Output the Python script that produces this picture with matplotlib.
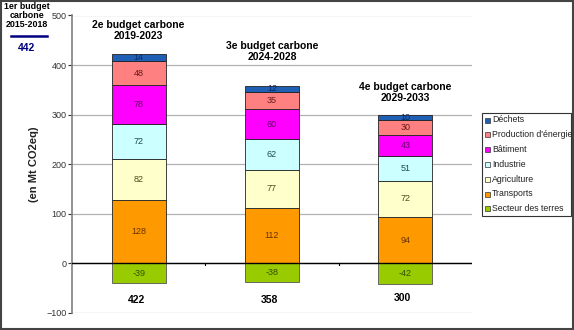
import matplotlib
matplotlib.use("Agg")
from matplotlib import pyplot as plt
from matplotlib.patches import Rectangle
import numpy as np

plt.rcParams["font.family"] = ["Liberation Sans", "DejaVu Sans"]

budgets = ["2e budget carbone\n2019-2023", "3e budget carbone\n2024-2028", "4e budget carbone\n2029-2033"]
totals = [422, 358, 300]

# secteurs, du bas vers le haut
sectors = ["Transports", "Agriculture", "Industrie", "Bâtiment", "Production d'énergie", "Déchets"]
transports = [128, 112, 94]
agriculture = [82, 77, 72]
industrie = [72, 62, 51]
batiment = [78, 60, 43]
production = [48, 35, 30]
dechets = [14, 12, 10]
terres = [-39, -38, -42]

first_budget = 442

colors = {
    "Transports": "#ff9900",
    "Agriculture": "#ffffcc",
    "Industrie": "#ccffff",
    "Bâtiment": "#ff00ff",
    "Production d'énergie": "#ff8080",
    "Déchets": "#1f5fb4",
    "Secteur des terres": "#99cc00",
}
label_colors = {
    "Transports": "#663300",
    "Agriculture": "#4d4d1a",
    "Industrie": "#1a4d4d",
    "Bâtiment": "#660066",
    "Production d'énergie": "#661a1a",
    "Déchets": "#0a2a66",
    "Secteur des terres": "#334d00",
}

fig = plt.figure(figsize=(5.74, 3.30), dpi=100)
ax = fig.add_axes([72 / 574, 1 - 313 / 330, 400 / 574, 297.5 / 330])

x = np.arange(3)
w = 0.405
series = [transports, agriculture, industrie, batiment, production, dechets]
bottom = np.zeros(3)
for name, vals in zip(sectors, series):
    vals = np.array(vals, dtype=float)
    ax.bar(x, vals, w, bottom=bottom, color=colors[name], edgecolor="#222222", linewidth=0.6, zorder=3)
    for xi, v, b0 in zip(x, vals, bottom):
        ax.text(xi, b0 + v / 2, f"{int(v)}", ha="center", va="center", fontsize=6.5,
                color=label_colors[name], zorder=4)
    bottom += vals

ax.bar(x, terres, w, color=colors["Secteur des terres"], edgecolor="#555555", linewidth=0.6, zorder=3)
for xi, v in zip(x, terres):
    ax.text(xi, v / 2, f"{v}", ha="center", va="center", fontsize=6.5,
            color=label_colors["Secteur des terres"], zorder=4)

ax.set_xlim(-0.5, 2.5)
ax.set_ylim(-100, 500)
ax.set_yticks(np.arange(-100, 501, 100))
ax.tick_params(axis="y", labelsize=6.5, colors="#333333", length=3, width=0.8, pad=1)
ax.set_xticks([])
for sp in ["top", "right", "bottom"]:
    ax.spines[sp].set_visible(False)
ax.spines["left"].set_color("#808080")
ax.spines["left"].set_linewidth(1.2)
ax.yaxis.grid(True, color="#b3b3b3", linewidth=0.9, zorder=0)
ax.axhline(0, color="black", linewidth=1.0, zorder=5)
for xb in [0.5, 1.5]:
    ax.plot([xb, xb], [0, -4], color="black", linewidth=0.8, zorder=5)

ax.set_ylabel("(en Mt CO2eq)", fontsize=8, fontweight="bold", labelpad=5, color="#222222")

# titres des budgets au-dessus des barres
title_y = [470, 428, 344]
for xi, t, ty in zip(x, budgets, title_y):
    ax.text(xi, ty, t, ha="center", va="center", fontsize=7.5, fontweight="bold", linespacing=1.1)

total_y = [-73, -73, -69]
for xi, t, ty in zip(x, totals, total_y):
    ax.text(xi - 0.02, ty, str(t), ha="center", va="center", fontsize=7.5, fontweight="bold")

# 1er budget
fig.text(27 / 574, 1 - 15.5 / 330, "1er budget\ncarbone\n2015-2018", ha="center", va="center",
         fontsize=6.4, fontweight="bold", linespacing=1.05)
fig.add_artist(plt.Line2D([11 / 574, 47 / 574], [1 - 36 / 330, 1 - 36 / 330], color="#000080", linewidth=1.8))
fig.text(27 / 574, 1 - 48 / 330, str(first_budget), ha="center", va="center", fontsize=7.5,
         fontweight="bold", color="#000080")

# légende dessinée à la main
order = ["Déchets", "Production d'énergie", "Bâtiment", "Industrie", "Agriculture", "Transports", "Secteur des terres"]
fig.add_artist(Rectangle((482 / 574, 1 - 216 / 330), 89 / 574, 103 / 330, transform=fig.transFigure,
                         facecolor="white", edgecolor="#333333", linewidth=0.8))
for i, name in enumerate(order):
    yc = 120 + i * 14.8
    fig.add_artist(Rectangle((485 / 574, 1 - (yc + 2.5) / 330), 5 / 574, 5 / 330, transform=fig.transFigure,
                             facecolor=colors[name], edgecolor="#333333", linewidth=0.5))
    fig.text(492 / 574, 1 - yc / 330, name, ha="left", va="center", fontsize=6.3, color="#222222")

fig.add_artist(Rectangle((0.002, 0.003), 0.996, 0.994, transform=fig.transFigure, fill=False,
                         edgecolor="#444444", linewidth=1.5))

fig.savefig("out.png", dpi=100)
